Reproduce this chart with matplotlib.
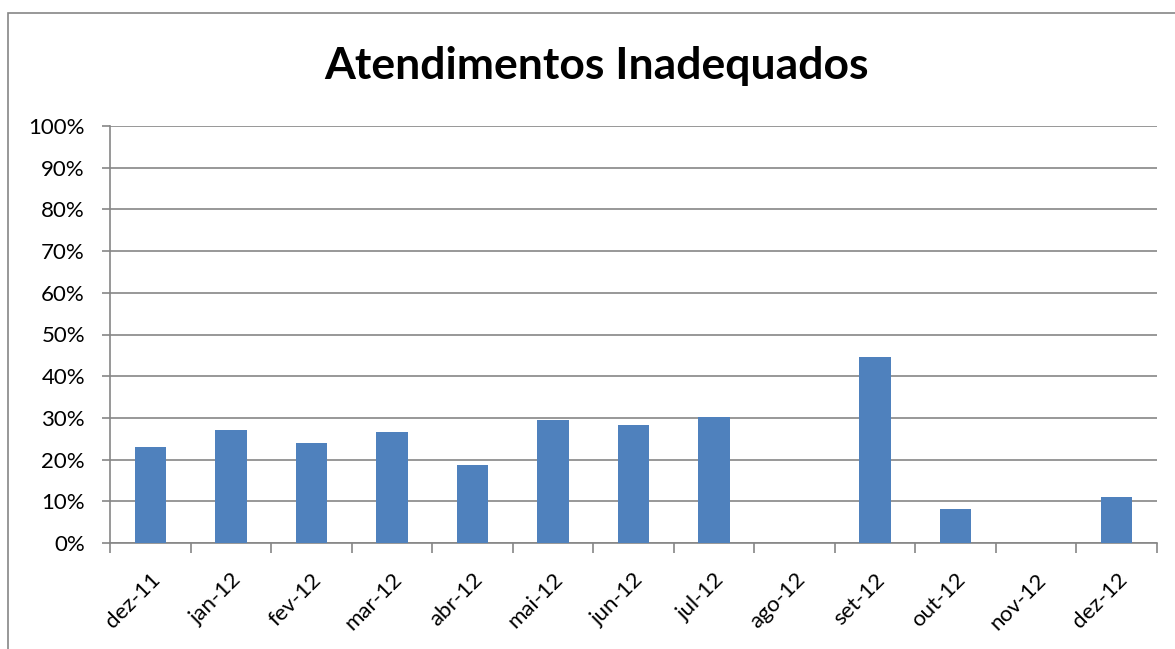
import matplotlib.pyplot as plt
import matplotlib.patches as patches
import matplotlib.transforms as mtransforms
from matplotlib.ticker import MultipleLocator, PercentFormatter
import numpy as np

# Data
months = ['dez-11', 'jan-12', 'fev-12', 'mar-12', 'abr-12', 'mai-12', 'jun-12',
          'jul-12', 'ago-12', 'set-12', 'out-12', 'nov-12', 'dez-12']
values = [23.0, 27.2, 24.0, 26.6, 18.7, 29.6, 28.2,
          30.2, 0, 44.5, 8.2, 0, 11.1]

plt.rcParams['font.family'] = ['Lato', 'DejaVu Sans']

fig = plt.figure(figsize=(11.75, 6.49), dpi=100)

# outer chart border (Excel chart area)
fig.patches.append(patches.Rectangle((7.5 / 1175, -0.1), 1.2, 0.98 + 0.1,
                                     transform=fig.transFigure, fill=False,
                                     edgecolor='#868686', linewidth=1.2))

ax = fig.add_axes([110 / 1175, 1 - 543 / 649, 1047 / 1175, 417 / 649])

x = np.arange(len(months))
ax.bar(x, values, width=0.39, color='#4F81BD', zorder=3)

ax.set_xlim(-0.5, len(months) - 0.5)
ax.set_ylim(0, 100)

ax.yaxis.set_major_locator(MultipleLocator(10))
ax.yaxis.set_major_formatter(PercentFormatter(decimals=0))
ax.grid(axis='y', color='#868686', linewidth=1.2, zorder=0)

ax.set_xticks(x)
ax.set_xticklabels(months, rotation=45, ha='right', va='top',
                   rotation_mode='anchor', fontsize=16)
shift = mtransforms.ScaledTranslation(-9 / 72, 0, fig.dpi_scale_trans)
for lbl in ax.get_xticklabels():
    lbl.set_transform(lbl.get_transform() + shift)
ax.set_xticks(np.arange(len(months) + 1) - 0.5, minor=True)
ax.tick_params(axis='x', which='major', length=0, pad=19)
ax.tick_params(axis='x', which='minor', length=7, color='#868686', width=1.2)
ax.tick_params(axis='y', length=6, color='#868686', width=1.2, labelsize=16, pad=12)

for s in ['top', 'right']:
    ax.spines[s].set_visible(False)
for s in ['left', 'bottom']:
    ax.spines[s].set_color('#868686')
    ax.spines[s].set_linewidth(1.2)

fig.text(597 / 1175, 1 - 66 / 649, 'Atendimentos Inadequados', ha='center',
         va='center', fontsize=32, fontweight='bold')

fig.savefig('out.png', dpi=100)
